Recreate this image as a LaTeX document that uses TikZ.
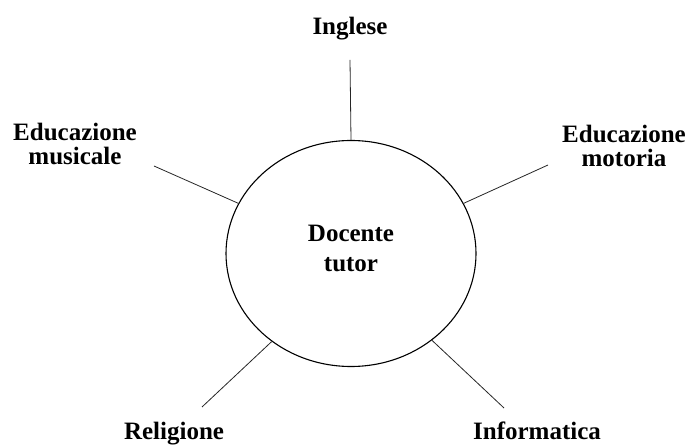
\documentclass[tikz,border=0pt]{standalone}
\usepackage{fontspec}
\setmainfont{Liberation Serif}
\usetikzlibrary{shapes.geometric,positioning,calc}

\tikzset{
  subj/.style={font=\bfseries\fontsize{25}{24}\selectfont, align=center, inner sep=0pt, anchor=base},
  spoke/.style={line width=0.8pt, black!85},
}

\begin{document}
\begin{tikzpicture}[x=1pt,y=1pt]
  \useasboundingbox (0,0) rectangle (687,446);

  \node[draw, ellipse, line width=1.1pt, minimum width=250pt, minimum height=226pt, inner sep=0pt] (tutor) at (351,192.5) {};
  \node[subj] (doc) at ($(tutor.center)+(0,-18.5)$) {Docente\\[6pt]tutor};

  \node[subj] (ing) at (350,411) {Inglese};
  \node[subj] (mus) at (75,281) {Educazione\\musicale};
  \node[subj] (mot) at (624,279) {Educazione\\motoria};
  \node[subj] (rel) at (174,6) {Religione};
  \node[subj] (inf) at (537,6) {Informatica};

  \coordinate (ingend) at (350,386);
  \coordinate (musend) at (154,280);
  \coordinate (motend) at (548,281);
  \coordinate (relend) at (202,39);
  \coordinate (infend) at (504,38);

  \draw[spoke] (tutor.90) -- (ingend);
  \draw[spoke] (tutor.156) -- (musend);
  \draw[spoke] (tutor.24) -- (motend);
  \draw[spoke] (tutor.228) -- (relend);
  \draw[spoke] (tutor.313) -- (infend);
\end{tikzpicture}
\end{document}
